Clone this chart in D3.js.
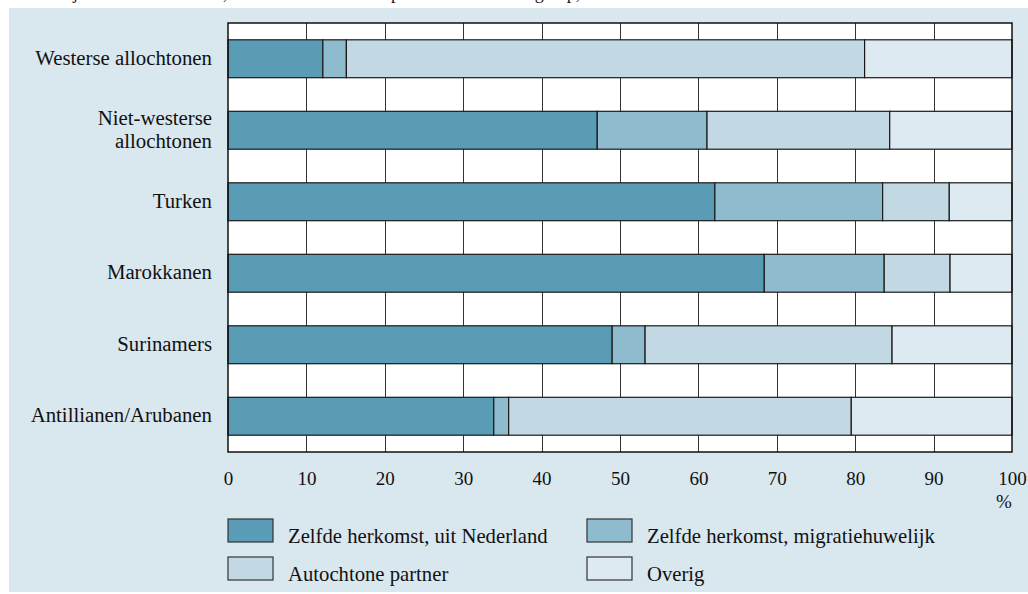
<!DOCTYPE html>
<html>
<head>
<meta charset="utf-8">
<script src="https://cdn.jsdelivr.net/npm/d3@7"></script>
<style>
  body { margin: 0; background: #fff; }
  svg text { font-family: "Liberation Serif", "Times New Roman", serif; fill: #111; }
</style>
</head>
<body>
<div id="chart"></div>
<script>
// categories (top to bottom)
var groups = ["Westerse allochtonen", "Niet-westerse allochtonen", "Turken",
              "Marokkanen", "Surinamers", "Antillianen/Arubanen"];
var groupLines = [["Westerse allochtonen"], ["Niet-westerse", "allochtonen"], ["Turken"],
                  ["Marokkanen"], ["Surinamers"], ["Antillianen/Arubanen"]];

var keys = ["Zelfde herkomst, uit Nederland", "Zelfde herkomst, migratiehuwelijk",
            "Autochtone partner", "Overig"];
var colors = ["#5a9bb6", "#8fbbcf", "#c2d9e4", "#deeaf1"];

// shares in %, per group
var uitNederland   = [12.1, 47.1, 62.1, 68.4, 49.0, 33.9];
var migratie       = [3.0, 14.0, 21.4, 15.3, 4.2, 1.9];
var autochtoon     = [66.1, 23.3, 8.5, 8.4, 31.5, 43.7];
var overig         = [18.8, 15.6, 8.0, 7.9, 15.3, 20.5];

var xTicks = [0, 10, 20, 30, 40, 50, 60, 70, 80, 90, 100];

var data = groups.map(function(g, i) {
  var row = {group: g};
  row[keys[0]] = uitNederland[i];
  row[keys[1]] = migratie[i];
  row[keys[2]] = autochtoon[i];
  row[keys[3]] = overig[i];
  return row;
});

var W = 1028, H = 594;
var margin = {top: 23, right: 16, bottom: 142, left: 228},
    width = W - margin.left - margin.right,
    height = H - margin.top - margin.bottom;

var svg = d3.select("#chart").append("svg")
    .attr("width", W)
    .attr("height", H);

// title, mostly cut off at the top edge as in the source
svg.append("text")
    .attr("x", 20)
    .attr("y", -1)
    .style("font-size", "18px")
    .text("Huwelijken van allochtonen, naar herkomst van de partner en herkomstgroep, 2005");

// panel background
svg.append("rect")
    .attr("x", 9).attr("y", 8)
    .attr("width", W - 9).attr("height", 584)
    .attr("fill", "#d9e7ef");

var g = svg.append("g")
    .attr("transform", "translate(" + margin.left + "," + margin.top + ")");

var x = d3.scaleLinear().domain([0, 100]).range([0, 784]);
var y = d3.scaleBand().domain(groups).range([0, 429]).paddingInner(0.47).paddingOuter(0.235);

// plot background
g.append("rect")
    .attr("width", x(100)).attr("height", 429)
    .attr("fill", "#fff");

// vertical grid
g.append("g")
  .selectAll("line")
  .data(xTicks.slice(1, -1))
  .enter().append("line")
    .attr("x1", function(d) { return Math.round(x(d)) + 0.5; })
    .attr("x2", function(d) { return Math.round(x(d)) + 0.5; })
    .attr("y1", 0).attr("y2", 429)
    .attr("stroke", "#333").attr("stroke-width", 1);

var stacked = d3.stack().keys(keys)(data);

g.selectAll("g.layer")
  .data(stacked)
  .enter().append("g")
    .attr("class", "layer")
    .attr("fill", function(d, i) { return colors[i]; })
  .selectAll("rect")
  .data(function(d) { return d; })
  .enter().append("rect")
    .attr("x", function(d) { return x(d[0]); })
    .attr("width", function(d) { return x(d[1]) - x(d[0]); })
    .attr("y", function(d) { return y(d.data.group); })
    .attr("height", y.bandwidth())
    .attr("stroke", "#1a1a1a").attr("stroke-width", 1.2);

// plot border
g.append("rect")
    .attr("width", x(100)).attr("height", 429)
    .attr("fill", "none").attr("stroke", "#111").attr("stroke-width", 1.5);

// x axis labels
var xAxis = g.append("g")
    .attr("transform", "translate(0,429)")
    .call(d3.axisBottom(x).tickValues(xTicks).tickSize(0).tickPadding(20));
xAxis.select(".domain").remove();
xAxis.selectAll("text")
    .style("font-family", "'Liberation Serif', serif")
    .style("font-size", "19px")
    .attr("fill", "#111");

g.append("text")
    .attr("x", x(100) - 8).attr("y", 429 + 56)
    .attr("text-anchor", "middle")
    .style("font-size", "19px")
    .text("%");

// category labels
groups.forEach(function(grp, i) {
  var lines = groupLines[i];
  var cy = y(grp) + y.bandwidth() / 2;
  var t = g.append("text")
      .attr("x", -16)
      .attr("text-anchor", "end")
      .style("font-size", "20.8px");
  lines.forEach(function(l, j) {
    t.append("tspan")
      .attr("x", -16)
      .attr("y", cy + 6 + (j - (lines.length - 1) / 2) * 23)
      .text(l);
  });
});

// legend
var legendPos = [[228, 519], [587, 519], [228, 557], [587, 557]];
var legend = svg.selectAll("g.legend")
  .data(keys)
  .enter().append("g")
    .attr("class", "legend")
    .attr("transform", function(d, i) { return "translate(" + legendPos[i][0] + "," + legendPos[i][1] + ")"; });
legend.append("rect")
    .attr("width", 45).attr("height", 23)
    .attr("fill", function(d, i) { return colors[i]; })
    .attr("stroke", "#333").attr("stroke-width", 1.2);
legend.append("text")
    .attr("x", 60).attr("y", 24)
    .style("font-size", "20.7px")
    .text(function(d) { return d; });
</script>
</body>
</html>
